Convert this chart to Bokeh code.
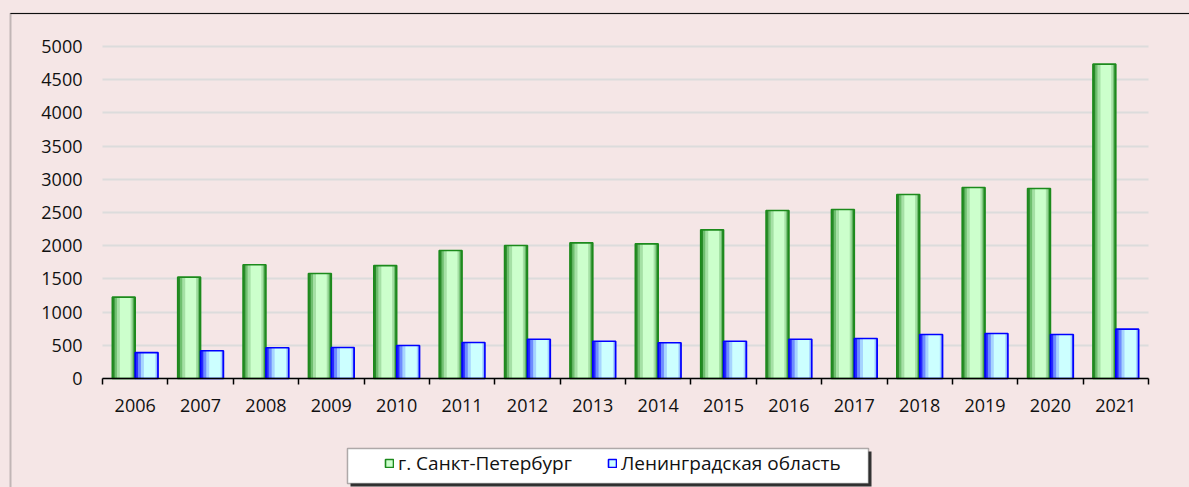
import numpy as np
from bokeh.plotting import figure
from bokeh.models import (ColumnDataSource, Range1d, FixedTicker, SingleIntervalTicker,
                          CustomJSTickFormatter, Legend, LegendItem, BoxAnnotation)
from bokeh.transform import dodge
from bokeh.embed import file_html
from bokeh.resources import INLINE

# ---- data ----
years = ["2006", "2007", "2008", "2009", "2010", "2011", "2012", "2013",
         "2014", "2015", "2016", "2017", "2018", "2019", "2020", "2021"]
spb = [1225, 1526, 1712, 1581, 1700, 1928, 2003, 2043,
       2028, 2239, 2530, 2545, 2771, 2877, 2861, 4734]
lenobl = [390, 417, 462, 467, 497, 542, 592, 562,
          538, 562, 592, 602, 663, 678, 663, 743]
series_names = ["г. Санкт-Петербург", "Ленинградская область"]

BG = "#F5E6E6"
FONT = "Open Sans"
W, H = 1189, 487
# plot area in page pixels
PL, PR, PT, PB = 102, 1148, 46, 378
YMAX = 5000

n = len(years)
src = ColumnDataSource(dict(x=np.arange(n) + 0.5, spb=spb, lo=lenobl))

xs = (PR - PL) / n
ys = (PB - PT) / YMAX
x_range = Range1d(-PL / xs, n + (W - PR) / xs)
y_range = Range1d(-(H - PB) / ys, YMAX + PT / ys)

p = figure(width=W, height=H, output_backend="svg", toolbar_location=None,
           x_range=x_range, y_range=y_range,
           min_border=0, min_border_left=0, min_border_right=0,
           min_border_top=0, min_border_bottom=0)
p.background_fill_color = BG
p.border_fill_color = BG
p.outline_line_color = None
p.title.visible = False


def cbox(**kw):
    return BoxAnnotation(left_units="canvas", right_units="canvas",
                         top_units="canvas", bottom_units="canvas", **kw)


# outer chart frame: left and top edges only
p.add_layout(cbox(left=10, right=10, top=12.5, bottom=H + 20,
                  fill_color=None, line_color="#4a4a4a", line_width=2,
                  level="underlay"))
p.add_layout(cbox(left=10, right=W + 20, top=12.5, bottom=13.5,
                  fill_color="#111111", fill_alpha=1, line_color="#111111",
                  line_width=0.5, level="underlay"))

w = 0.35
# layered bars to imitate gradient fills
green_layers = [(0.0, 1.0, "#2A8A2A"), (0.10, 0.93, "#6FBF6F"),
                (0.20, 0.88, "#A5E0A5"), (0.33, 0.80, "#CCFFCC")]
blue_layers = [(0.0, 1.0, "#2828FF"), (0.12, 0.97, "#6E8CFF"),
               (0.25, 0.94, "#A6D4FF"), (0.38, 0.88, "#CCFFFF")]

g_rs = []
for a, b, c in green_layers:
    off = -w + (a + b) / 2 * w
    g_rs.append(p.vbar(x=dodge("x", off), top="spb", width=(b - a) * w, source=src,
                       fill_color=c, line_color=None))
g_out = p.vbar(x=dodge("x", -w / 2), top="spb", width=w, source=src,
               fill_color=None, line_color="#1C8A1C", line_width=1.6)

b_rs = []
for a, b, c in blue_layers:
    off = (a + b) / 2 * w
    b_rs.append(p.vbar(x=dodge("x", off), top="lo", width=(b - a) * w, source=src,
                       fill_color=c, line_color=None))
b_out = p.vbar(x=dodge("x", w / 2), top="lo", width=w, source=src,
               fill_color=None, line_color="#0000FF", line_width=1.6)

# y axis (inside the frame at x=0)
p.yaxis.fixed_location = 0
p.yaxis.bounds = (0, YMAX)
p.yaxis.ticker = SingleIntervalTicker(interval=500, num_minor_ticks=0)
p.yaxis.axis_line_color = None
p.yaxis.major_tick_line_color = None
p.yaxis.minor_tick_line_color = None
p.yaxis.major_tick_out = 0
p.yaxis.major_label_standoff = 20
p.yaxis.major_label_text_font = FONT
p.yaxis.major_label_text_font_size = "18px"
p.yaxis.major_label_text_color = "#111111"

# grid
p.xgrid.grid_line_color = None
yg = p.ygrid[0]
yg.grid_line_color = "#DCDCDC"
yg.grid_line_width = 2
yg.ticker = p.yaxis[0].ticker
if "cross_bounds" in yg.properties():
    yg.cross_bounds = (0, n)

# x axis: labels at centres, ticks at boundaries
p.xaxis.fixed_location = 0
p.xaxis.bounds = (0, n)
p.xaxis.ticker = FixedTicker(ticks=[i + 0.5 for i in range(n)],
                             minor_ticks=list(range(n + 1)))
p.xaxis.formatter = CustomJSTickFormatter(args=dict(labels=years),
                                          code="return labels[Math.floor(tick)];")
p.xaxis.axis_line_color = "black"
p.xaxis.axis_line_width = 1.5
p.xaxis.major_tick_line_color = None
p.xaxis.major_tick_out = 0
p.xaxis.major_tick_in = 0
p.xaxis.minor_tick_line_color = "black"
p.xaxis.minor_tick_line_width = 1.5
p.xaxis.minor_tick_out = 6
p.xaxis.minor_tick_in = 0
p.xaxis.major_label_standoff = 14
p.xaxis.major_label_text_font = FONT
p.xaxis.major_label_text_font_size = "18px"
p.xaxis.major_label_text_color = "#111111"

# legend box with shadow
p.add_layout(cbox(left=350, right=871, top=451, bottom=486,
                  fill_color="#333333", fill_alpha=1, line_color=None))
p.add_layout(cbox(left=347, right=868, top=448, bottom=483,
                  fill_color="white", fill_alpha=1,
                  line_color="black", line_width=1.5))

legend = Legend(items=[LegendItem(label=series_names[0], renderers=[g_rs[-1], g_out]),
                       LegendItem(label=series_names[1], renderers=[b_rs[-1], b_out])],
                orientation="horizontal", location=(384, 11),
                background_fill_alpha=0, border_line_color=None,
                glyph_width=10, glyph_height=10, label_height=20,
                label_standoff=4, spacing=35,
                padding=0, margin=0, label_text_font=FONT,
                label_text_font_size="19px", label_text_color="#111111")
p.add_layout(legend)

html = file_html(p, INLINE)
html = html.replace("</head>",
                    "<style>html,body{background:%s;margin:0;}</style></head>" % BG, 1)
open("out.html", "w").write(html)
